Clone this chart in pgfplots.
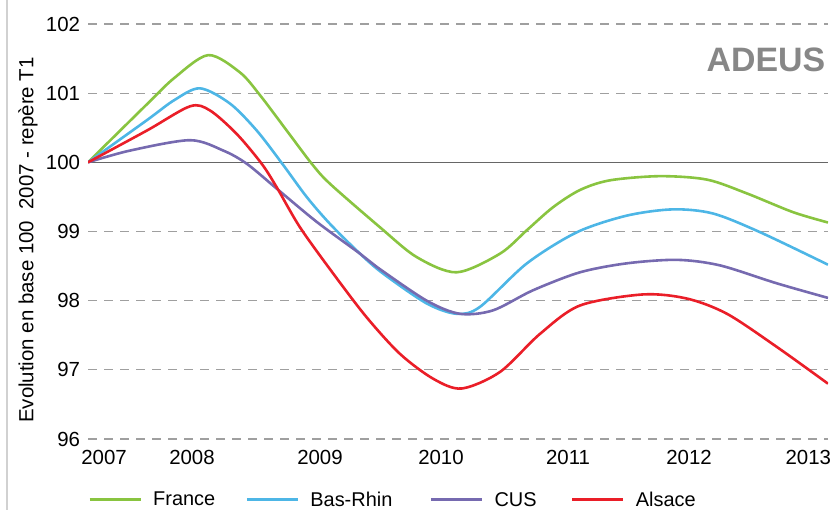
\documentclass[border=0pt]{standalone}
\usepackage{fontspec}
\setmainfont{Liberation Sans}
\usepackage{pgfplots}
\pgfplotsset{compat=1.18}
\definecolor{cFrance}{RGB}{137,196,64}
\definecolor{cBas}{RGB}{77,182,230}
\definecolor{cCUS}{RGB}{118,106,176}
\definecolor{cAls}{RGB}{234,30,40}
\begin{document}
\begin{tikzpicture}
\useasboundingbox (0,0) rectangle (832bp,510bp);
\draw[black!18, line width=2bp] (7bp,0) -- (7bp,510bp);
\node[font=\bfseries\fontsize{34}{34}\selectfont, text=black!47] at (766bp,450bp) {ADEUS};
\begin{axis}[
  at={(88bp,71bp)}, anchor=south west,
  width=740bp, height=415bp, scale only axis,
  xmin=2007, xmax=2013, ymin=96, ymax=102,
  axis line style={draw=none},
  tick style={draw=none},
  ytick={96,97,98,99,101,102},
  extra y ticks={100},
  extra y tick style={grid=major, major grid style={solid, black!60, line width=1.3bp}},
  ymajorgrids,
  major grid style={gray!75, line width=1.2bp, dash pattern=on 9bp off 7bp},
  xtick={2007.13,2007.843,2008.881,2009.862,2010.892,2011.873,2012.84},
  xticklabels={2007,2008,2009,2010,2011,2012,2013},
  /pgf/number format/assume math mode=true,
  yticklabel style={xshift=-4.5bp, font=\fontsize{20.5}{22}\selectfont},
  xticklabel style={yshift=-8bp, font=\fontsize{20.5}{22}\selectfont},
  ylabel={Evolution en base 100\ \ 2007 - repère T1},
  ylabel style={at={(axis description cs:-0.081,0.4795)}, anchor=center, font=\fontsize{20.5}{22}\selectfont},
  legend columns=4,
  legend style={at={(axis description cs:0,-0.1465)}, anchor=west, draw=none, fill=none,
    inner sep=0pt, outer sep=0pt, font=\fontsize{20}{22}\selectfont,
    nodes={inner sep=0pt},
    /tikz/every odd column/.append style={column sep=11bp},
    /tikz/column 2/.append style={column sep=30bp},
    /tikz/column 4/.append style={column sep=37bp},
    /tikz/column 6/.append style={column sep=34bp}},
  legend image code/.code={\draw[#1, line width=3.2bp] (0bp,0bp) -- (51bp,0bp);},
  every axis plot/.append style={line width=2.6bp, smooth, no markers},
]
\addplot[cFrance] coordinates {(2007,100) (2007.478,100.84) (2007.70,101.22) (2007.975,101.55) (2008.232,101.30) (2008.395,100.97) (2008.611,100.46) (2008.814,99.98) (2008.962,99.69) (2009.368,99.06) (2009.665,98.63) (2009.989,98.41) (2010.341,98.68) (2010.559,99.02) (2010.770,99.35) (2010.989,99.6) (2011.232,99.74) (2011.638,99.80) (2012.019,99.75) (2012.343,99.55) (2012.716,99.28) (2013,99.13)};
\addlegendentry{France}
\addplot[cBas] coordinates {(2007,100) (2007.478,100.61) (2007.70,100.90) (2007.908,101.07) (2008.151,100.85) (2008.368,100.46) (2008.571,99.99) (2008.773,99.5) (2008.962,99.11) (2009.205,98.68) (2009.394,98.39) (2009.746,97.96) (2009.989,97.81) (2010.178,97.91) (2010.559,98.54) (2010.965,98.99) (2011.370,99.23) (2011.743,99.32) (2012.068,99.26) (2012.449,98.99) (2013,98.52)};
\addlegendentry{Bas-Rhin}
\addplot[cCUS] coordinates {(2007,100) (2007.341,100.17) (2007.827,100.32) (2008.097,100.17) (2008.287,99.98) (2008.530,99.62) (2008.854,99.14) (2009.205,98.68) (2009.340,98.49) (2009.746,98.0) (2010.016,97.81) (2010.284,97.86) (2010.608,98.15) (2010.989,98.41) (2011.370,98.54) (2011.776,98.59) (2012.124,98.51) (2012.586,98.25) (2013,98.04)};
\addlegendentry{CUS}
\addplot[cAls] coordinates {(2007,100) (2007.478,100.46) (2007.827,100.81) (2007.989,100.75) (2008.206,100.41) (2008.408,99.98) (2008.530,99.64) (2008.719,99.06) (2008.989,98.39) (2009.259,97.76) (2009.530,97.23) (2009.800,96.87) (2010.030,96.73) (2010.341,96.97) (2010.665,97.52) (2010.989,97.93) (2011.500,98.09) (2011.857,98.03) (2012.181,97.81) (2012.586,97.33) (2013,96.8)};
\addlegendentry{Alsace}
\end{axis}
\end{tikzpicture}
\end{document}
